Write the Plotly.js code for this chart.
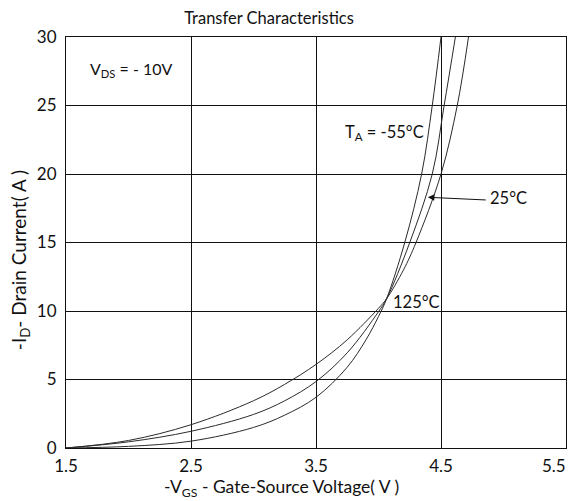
<!DOCTYPE html>
<html>
<head>
<meta charset="utf-8">
<script src="https://cdn.plot.ly/plotly-3.0.1.min.js"></script>
<style>html,body{margin:0;padding:0;background:#fff;}#chart{width:571px;height:501px;}</style>
</head>
<body>
<div id="chart"></div>
<script>
// -55°C curve
const vgsM55 = [1.5, 2.0, 2.5, 3.0, 3.25, 3.5, 3.75, 3.9, 4.0, 4.065, 4.21, 4.345, 4.43, 4.50];
const idM55  = [0, 0.12, 0.5, 1.5, 2.4, 3.7, 5.9, 7.9, 9.6, 10.9, 15, 20, 25, 30];
// 25°C curve
const vgs25 = [1.5, 2.0, 2.5, 3.0, 3.25, 3.5, 3.75, 4.0, 4.065, 4.25, 4.43, 4.525, 4.615];
const id25  = [0, 0.45, 1.22, 2.45, 3.45, 4.85, 6.95, 9.95, 10.9, 15, 20, 25, 30];
// 125°C curve
const vgs125 = [1.5, 2.0, 2.5, 3.0, 3.25, 3.5, 3.75, 4.0, 4.065, 4.2, 4.3, 4.5, 4.63, 4.72];
const id125  = [0, 0.55, 1.7, 3.45, 4.65, 6.1, 7.9, 10.2, 10.9, 13.0, 15, 20, 25, 30];

const xTicks = [1.5, 2.5, 3.5, 4.5, 5.5];
const yTicks = [0, 5, 10, 15, 20, 25, 30];

const F = "Lato, 'Open Sans', sans-serif";
const lineStyle = {color: '#2a2a2a', width: 1, shape: 'spline', smoothing: 1};

const traces = [
  {x: vgsM55, y: idM55, mode: 'lines', line: lineStyle, name: '-55°C', hoverinfo: 'none'},
  {x: vgs25, y: id25, mode: 'lines', line: lineStyle, name: '25°C', hoverinfo: 'none'},
  {x: vgs125, y: id125, mode: 'lines', line: lineStyle, name: '125°C', hoverinfo: 'none'}
];

const lastTick = xTicks[xTicks.length - 1];

const layout = {
  width: 571, height: 501,
  margin: {l: 66, r: 5, t: 37, b: 53},
  paper_bgcolor: '#fff', plot_bgcolor: '#fff',
  showlegend: false,
  font: {family: F, size: 17, color: '#111'},
  title: {text: 'Transfer Characteristics', font: {family: F, size: 16.5, color: '#111'}, x: 269/571, xanchor: 'center', xref: 'container', y: 1 - 18/501, yanchor: 'middle', yref: 'container'},
  xaxis: {
    range: [1.5, 5.5], tickvals: xTicks, ticktext: xTicks.map(v => v === lastTick ? '' : v.toFixed(1)),
    showgrid: true, gridcolor: '#111', gridwidth: 1,
    showline: true, linecolor: '#111', linewidth: 1, mirror: true,
    zeroline: false, ticks: '', ticklabelstandoff: 3, ticklabeloverflow: 'allow',
    tickfont: {family: F, size: 17, color: '#111'}
  },
  yaxis: {
    range: [0, 30], tickvals: yTicks,
    showgrid: true, gridcolor: '#111', gridwidth: 1,
    showline: true, linecolor: '#111', linewidth: 1, mirror: true,
    zeroline: false, ticks: '', ticklabelstandoff: 5, ticklabeloverflow: 'allow',
    tickfont: {family: F, size: 17, color: '#111'}
  },
  annotations: [
    {x: lastTick, y: 0, xref: 'x', yref: 'paper', xanchor: 'right', yanchor: 'top', yshift: -5, xshift: 2, text: lastTick.toFixed(1), showarrow: false, font: {family: F, size: 17, color: '#111'}},
    {x: 0.43, y: 0, xref: 'paper', yref: 'paper', xanchor: 'center', yanchor: 'middle', yshift: -40, text: '-V<sub>GS</sub> - Gate-Source Voltage( V )', showarrow: false, font: {family: F, size: 17.5, color: '#111'}},
    {x: 0, y: 0.457, xref: 'paper', yref: 'paper', xanchor: 'center', yanchor: 'middle', xshift: -46, textangle: -90, text: '-I<sub>D</sub>- Drain Current( A )', showarrow: false, font: {family: F, size: 19, color: '#111'}},
    {x: 2.02, y: 27.6, xref: 'x', yref: 'y', text: 'V<sub>DS</sub> = - 10V', showarrow: false, font: {family: F, size: 16, color: '#111'}},
    {x: 4.044, y: 23.0, xref: 'x', yref: 'y', text: 'T<sub>A</sub> = -55°C', showarrow: false, font: {family: F, size: 16.5, color: '#111'}},
    {x: 5.036, y: 18.25, xref: 'x', yref: 'y', text: '25°C', showarrow: false, font: {family: F, size: 16.5, color: '#111'}},
    {x: 4.395, y: 18.3, xref: 'x', yref: 'y', ax: 4.87, ay: 18.1, axref: 'x', ayref: 'y', text: '', showarrow: true, arrowhead: 2, arrowsize: 1.3, arrowwidth: 1, arrowcolor: '#111'},
    {x: 4.30, y: 10.66, xref: 'x', yref: 'y', text: '125°C', showarrow: false, font: {family: F, size: 16.5, color: '#111'}}
  ]
};

Plotly.newPlot('chart', traces, layout, {displayModeBar: false, staticPlot: true});
</script>
</body>
</html>
